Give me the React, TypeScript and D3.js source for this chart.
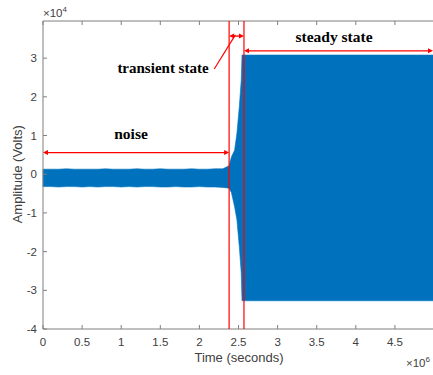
import React from "react";
import * as d3 from "d3";

const times = [
  0, 0.1, 0.2, 0.3, 0.4, 0.5, 0.6, 0.7, 0.8, 0.9, 1.0, 1.1, 1.2, 1.3, 1.4, 1.5,
  1.6, 1.7, 1.8, 1.9, 2.0, 2.1, 2.2, 2.3, 2.38, 2.41, 2.45, 2.48, 2.51, 2.535,
  2.545, 5.0,
];
const upper = [
  0.13, 0.13, 0.13, 0.14, 0.13, 0.13, 0.13, 0.13, 0.14, 0.13, 0.13, 0.13, 0.14,
  0.13, 0.13, 0.14, 0.13, 0.13, 0.13, 0.14, 0.13, 0.13, 0.14, 0.14, 0.22, 0.45,
  0.62, 1.06, 1.74, 2.43, 3.08, 3.08,
];
const lower = [
  -0.32, -0.32, -0.33, -0.32, -0.32, -0.33, -0.32, -0.33, -0.32, -0.32, -0.33,
  -0.32, -0.33, -0.32, -0.32, -0.33, -0.33, -0.32, -0.33, -0.33, -0.32, -0.33,
  -0.33, -0.34, -0.36, -0.48, -0.84, -1.18, -1.87, -2.55, -3.27, -3.27,
];

const xTicks = [0, 0.5, 1, 1.5, 2, 2.5, 3, 3.5, 4, 4.5, 5];
const yTicks = [-4, -3, -2, -1, 0, 1, 2, 3];

// boundaries between regimes
const boundaries = [2.38, 2.57];

const W = 433;
const H = 375;
const left = 43;
const right = 434;
const top = 21;
const bottom = 329;

const red = "#ff0000";
const blue = "#0072bd";
const axisColor = "#7f7f7f";
const textColor = "#404040";

const Arrow = ({ x1, x2, y }: { x1: number; x2: number; y: number }) => {
  const h = 5;
  const w = 2.5;
  return (
    <g>
      <line x1={x1 + 2} x2={x2 - 2} y1={y} y2={y} stroke={red} strokeWidth={1.3} />
      <path d={`M${x1},${y}L${x1 + h},${y - w}L${x1 + h},${y + w}Z`} fill={red} />
      <path d={`M${x2},${y}L${x2 - h},${y - w}L${x2 - h},${y + w}Z`} fill={red} />
    </g>
  );
};

export default function App() {
  const x = d3.scaleLinear().domain([0, 5]).range([left, right]);
  const y = d3.scaleLinear().domain([-4, 3.96]).range([bottom, top]);

  const idx = d3.range(times.length);
  const area = d3
    .area<number>()
    .x((i) => x(times[i]))
    .y0((i) => y(lower[i]))
    .y1((i) => y(upper[i]));

  const serif = "'Liberation Serif', 'Times New Roman', serif";
  const sans = "'Liberation Sans', Arial, Helvetica, sans-serif";

  return (
    <svg
      width={W}
      height={H}
      style={{ position: "absolute", left: 0, top: 0, background: "#fff" }}
    >
      <rect width={W} height={H} fill="#fff" />
      <path d={area(idx) || ""} fill={blue} stroke={blue} strokeWidth={0.6} />

      {/* axes box */}
      <line x1={left} x2={right} y1={bottom} y2={bottom} stroke={axisColor} />
      <line x1={left} x2={right} y1={top} y2={top} stroke={axisColor} />
      <line x1={left} x2={left} y1={top} y2={bottom} stroke={axisColor} />
      {xTicks.map((t) => (
        <g key={"x" + t}>
          <line x1={x(t)} x2={x(t)} y1={bottom} y2={bottom - 4} stroke={axisColor} />
          <line x1={x(t)} x2={x(t)} y1={top} y2={top + 4} stroke={axisColor} />
          {t < 5 && (
            <text
              x={x(t)}
              y={346}
              textAnchor="middle"
              fontFamily={sans}
              fontSize={11.5}
              fill={textColor}
            >
              {t}
            </text>
          )}
        </g>
      ))}
      {yTicks.map((t) => (
        <g key={"y" + t}>
          <line x1={left} x2={left + 4} y1={y(t)} y2={y(t)} stroke={axisColor} />
          <text
            x={left - 6}
            y={y(t) + 4}
            textAnchor="end"
            fontFamily={sans}
            fontSize={11.5}
            fill={textColor}
          >
            {t}
          </text>
        </g>
      ))}

      {/* exponent labels */}
      <text x={43} y={17} fontFamily={sans} fontSize={11.5} fill={textColor}>
        ×10
        <tspan dy={-5} fontSize={8}>
          4
        </tspan>
      </text>
      <text x={406} y={367} fontFamily={sans} fontSize={11.5} fill={textColor}>
        ×10
        <tspan dy={-5} fontSize={8}>
          6
        </tspan>
      </text>

      <text
        x={(left + 433) / 2 + 1}
        y={362}
        textAnchor="middle"
        fontFamily={sans}
        fontSize={13}
        fill={textColor}
      >
        Time (seconds)
      </text>
      <text
        transform={`translate(22,${y(0)}) rotate(-90)`}
        textAnchor="middle"
        fontFamily={sans}
        fontSize={13}
        fill={textColor}
      >
        Amplitude (Volts)
      </text>

      {/* annotations */}
      {boundaries.map((b) => (
        <line key={b} x1={x(b)} x2={x(b)} y1={top} y2={bottom} stroke={red} strokeWidth={1.2} />
      ))}
      <Arrow x1={x(0)} x2={x(boundaries[0])} y={y(0.56)} />
      <Arrow x1={x(boundaries[0])} x2={x(boundaries[1])} y={y(3.57)} />
      <Arrow x1={x(boundaries[1])} x2={433} y={y(3.19)} />
      <line x1={x(2.19)} y1={y(2.72)} x2={x(2.46)} y2={y(3.6)} stroke={red} strokeWidth={1.2} />

      <text x={131} y={139} textAnchor="middle" fontFamily={serif} fontWeight="bold" fontSize={15.5} fill="#000">
        noise
      </text>
      <text x={163} y={73} textAnchor="middle" fontFamily={serif} fontWeight="bold" fontSize={15} fill="#000">
        transient state
      </text>
      <text x={334} y={42} textAnchor="middle" fontFamily={serif} fontWeight="bold" fontSize={15.5} fill="#000">
        steady state
      </text>
    </svg>
  );
}
